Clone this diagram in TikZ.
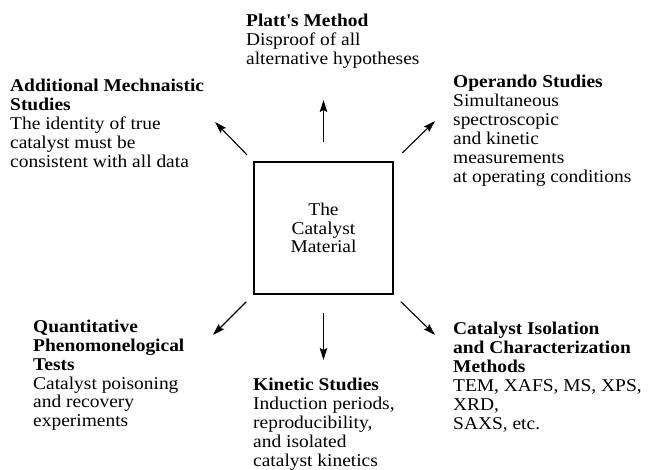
\documentclass[tikz,border=0pt]{standalone}
\usepackage{fontspec}
\setmainfont[FakeStretch=1.08]{Liberation Serif}
\usetikzlibrary{arrows.meta}
\tikzset{
    mybox/.style = {rectangle, draw=black, line width=1.3pt, minimum width=139pt, minimum height=132pt, align=center, inner sep=0pt, font=\fontsize{18}{18.5}\selectfont},
    mytext/.style = {anchor=base west, align=left, inner sep=0pt, font=\fontsize{18}{19}\selectfont},
    edgen/.style = {-{Stealth[length=12pt,width=7.5pt,inset=2pt]}, line width=1.1pt},
}
\begin{document}
\begin{tikzpicture}[x=1pt,y=-1pt]
\useasboundingbox (0,0) rectangle (651,470);
% base anchor sits on the last line
\node[mybox] at (323.5,228) (cat) {The\\Catalyst\\Material};
\node[mytext] at (246,65) (platt) {\textbf{Platt\textquotesingle s Method}\\Disproof of all\\alternative hypotheses};
\node[mytext] at (10,168) (addl) {\textbf{Additional Mechnaistic}\\\textbf{Studies}\\The identity of true\\catalyst must be\\consistent with all data};
\node[mytext] at (453,183) (oper) {\textbf{Operando Studies}\\Simultaneous\\spectroscopic\\and kinetic\\measurements\\at operating conditions};
\node[mytext] at (33,427) (quant) {\textbf{Quantitative}\\\textbf{Phenomonelogical}\\\textbf{Tests}\\Catalyst poisoning\\and recovery\\experiments};
\node[mytext] at (253,466) (kin) {\textbf{Kinetic Studies}\\Induction periods,\\reproducibility,\\and isolated\\catalyst kinetics};
\node[mytext] at (453,429) (iso) {\textbf{Catalyst Isolation}\\\textbf{and Characterization}\\\textbf{Methods}\\TEM, XAFS, MS, XPS,\\XRD,\\SAXS, etc.};
%
\coordinate (tn) at (323.5,100);
\coordinate (tnw) at (215,122);
\coordinate (tne) at (435,121);
\coordinate (tsw) at (213,335);
\coordinate (ts) at (323.5,360);
\coordinate (tse) at (435,335);
%
\draw[edgen, shorten <=19pt] (cat.north) -- (tn);
\draw[edgen, shorten <=9pt] (cat.north west) -- (tnw);
\draw[edgen, shorten <=12pt] (cat.north east) -- (tne);
\draw[edgen, shorten <=10pt] (cat.south west) -- (tsw);
\draw[edgen, shorten <=18pt] (cat.south) -- (ts);
\draw[edgen, shorten <=10pt] (cat.south east) -- (tse);
\end{tikzpicture}
\end{document}
